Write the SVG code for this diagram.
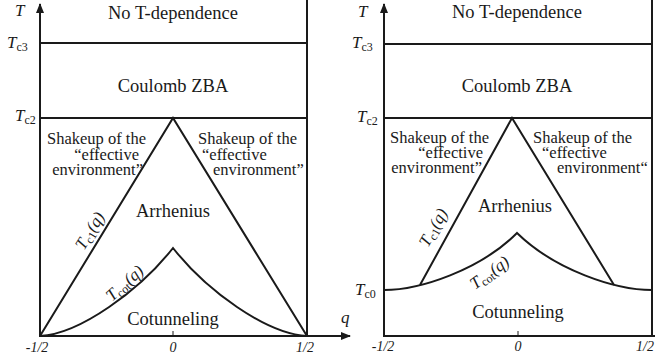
<svg xmlns="http://www.w3.org/2000/svg" width="655" height="364" viewBox="0 0 655 364">
<style>
.ln{stroke:#1a1a1a;stroke-width:2;fill:none}
.thin{stroke:#1a1a1a;stroke-width:1;fill:none}
</style>
<defs>
<marker id="ah" viewBox="0 0 10 8" refX="9" refY="4" markerWidth="10" markerHeight="8" markerUnits="userSpaceOnUse" orient="auto">
<path d="M0,0 L10,4 L0,8 Z" fill="#1a1a1a"/>
</marker>
</defs>
<rect width="655" height="364" fill="#fff"/>
<g id="connectors">
<line class="ln" x1="40" y1="337" x2="40" y2="4" marker-end="url(#ah)"/>
<line class="ln" x1="39" y1="336" x2="350" y2="336" marker-end="url(#ah)"/>
<line class="ln" x1="307" y1="0" x2="307" y2="336"/>
<line class="ln" x1="40" y1="43" x2="307" y2="43"/>
<line class="ln" x1="40" y1="118" x2="307" y2="118"/>
<polyline class="ln" points="40,336 173,118 307,336"/>
<path class="ln" d="M40,336 C80,334 140,290 173,248 C206,290 266,334 307,336"/>
<line class="thin" x1="173" y1="331" x2="173" y2="336"/>
<line class="ln" x1="384" y1="337" x2="384" y2="4" marker-end="url(#ah)"/>
<line class="ln" x1="383" y1="336" x2="655" y2="336"/>
<line class="ln" x1="652" y1="0" x2="652" y2="336"/>
<line class="ln" x1="384" y1="44" x2="652" y2="44"/>
<line class="ln" x1="384" y1="118" x2="652" y2="118"/>
<polyline class="ln" points="420,285 512,118 614,285"/>
<path class="ln" d="M384,290 C420,290 480,270 517,233 C555,270 615,290 652,290"/>
<line class="thin" x1="518" y1="331" x2="518" y2="336"/>
</g>
<g font-family="Liberation Serif, serif" fill="#1a1a1a">
<g id="left-axis-labels" font-style="italic" font-size="17">
<text x="15" y="16">T</text>
<text x="7" y="48">T<tspan font-style="normal" font-size="12" dy="3">c3</tspan></text>
<text x="15" y="121">T<tspan font-style="normal" font-size="12" dy="3">c2</tspan></text>
<text x="341" y="323">q</text>
<text font-size="14" x="37" y="352" text-anchor="middle">-1/2</text>
<text font-size="14" x="173" y="352" text-anchor="middle">0</text>
<text font-size="14" x="305" y="352" text-anchor="middle">1/2</text>
</g>
<g id="left-no-t" font-size="18.5">
<text x="173" y="19" text-anchor="middle">No T-dependence</text>
</g>
<g id="left-coulomb" font-size="18.5">
<text x="173" y="92" text-anchor="middle">Coulomb ZBA</text>
</g>
<g id="left-shakeup-l" font-size="16.5" text-anchor="end">
<text x="146" y="144">Shakeup of the</text>
<text x="139" y="160">“effective</text>
<text x="143" y="175">environment”</text>
</g>
<g id="left-shakeup-r" font-size="16.5">
<text x="198" y="144">Shakeup of the</text>
<text x="202" y="160">“effective</text>
<text x="213" y="175">environment”</text>
</g>
<g id="left-arrhenius" font-size="18.5">
<text x="173" y="217" text-anchor="middle">Arrhenius</text>
</g>
<g id="left-cotunneling" font-size="18.5">
<text x="173" y="325" text-anchor="middle">Cotunneling</text>
</g>
<g id="left-tc1" font-style="italic" font-size="17">
<text transform="translate(84,251) rotate(-58.6)">T<tspan font-style="normal" font-size="12" dy="3">c1</tspan><tspan dy="-3">(q)</tspan></text>
</g>
<g id="left-tcot" font-style="italic" font-size="17">
<text transform="translate(112,302) rotate(-42)">T<tspan font-style="normal" font-size="12" dy="3">cot</tspan><tspan dy="-3">(q)</tspan></text>
</g>
<g id="right-axis-labels" font-style="italic" font-size="17">
<text x="358" y="17">T</text>
<text x="352" y="48">T<tspan font-style="normal" font-size="12" dy="3">c3</tspan></text>
<text x="357" y="122">T<tspan font-style="normal" font-size="12" dy="3">c2</tspan></text>
<text x="355" y="295">T<tspan font-style="normal" font-size="12" dy="3">c0</tspan></text>
<text font-size="14" x="383" y="351" text-anchor="middle">-1/2</text>
<text font-size="14" x="518" y="351" text-anchor="middle">0</text>
<text font-size="14" x="636" y="351">1/2</text>
</g>
<g id="right-no-t" font-size="18.5">
<text x="517" y="18" text-anchor="middle">No T-dependence</text>
</g>
<g id="right-coulomb" font-size="18.5">
<text x="517" y="92" text-anchor="middle">Coulomb ZBA</text>
</g>
<g id="right-shakeup-l" font-size="16.5" text-anchor="end">
<text x="489" y="143">Shakeup of the</text>
<text x="483" y="158">“effective</text>
<text x="482" y="173">environment”</text>
</g>
<g id="right-shakeup-r" font-size="16.5">
<text x="533" y="143">Shakeup of the</text>
<text x="542" y="158">“effective</text>
<text x="557" y="173">environment“</text>
</g>
<g id="right-arrhenius" font-size="18.5">
<text x="515" y="212" text-anchor="middle">Arrhenius</text>
</g>
<g id="right-cotunneling" font-size="18.5">
<text x="518" y="318" text-anchor="middle">Cotunneling</text>
</g>
<g id="right-tc1" font-style="italic" font-size="17">
<text transform="translate(428,248) rotate(-60.5)">T<tspan font-style="normal" font-size="12" dy="3">c1</tspan><tspan dy="-3">(q)</tspan></text>
</g>
<g id="right-tcot" font-style="italic" font-size="17">
<text transform="translate(475,290) rotate(-36)">T<tspan font-style="normal" font-size="12" dy="3">cot</tspan><tspan dy="-3">(q)</tspan></text>
</g>
</g>
</svg>
